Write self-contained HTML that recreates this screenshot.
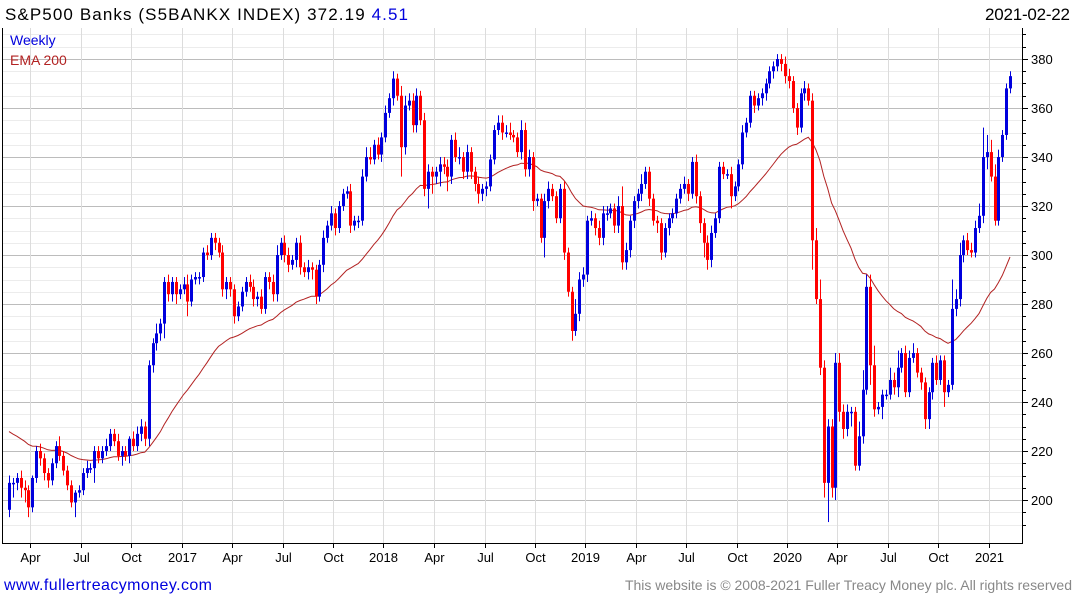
<!DOCTYPE html>
<html><head><meta charset="utf-8">
<style>
html,body{margin:0;padding:0;background:#fff;}
svg{display:block;font-family:"Liberation Sans",sans-serif;}
</style></head>
<body>
<svg id="chart" width="1075" height="600" viewBox="0 0 1075 600" xmlns="http://www.w3.org/2000/svg">
<g id="grid"></g>
<g id="ema"></g>
<g id="candles"></g>
<g id="axes"></g>
<text x="5" y="20" font-size="17" fill="#000" textLength="403" lengthAdjust="spacing">S&amp;P500 Banks  (S5BANKX INDEX) 372.19 <tspan fill="#0000dd">4.51</tspan></text>
<text x="985" y="20" font-size="17" fill="#000" textLength="85" lengthAdjust="spacing">2021-02-22</text>
<text x="10" y="45" font-size="14" fill="#0000dd">Weekly</text>
<text x="10" y="65" font-size="14" fill="#b22222">EMA 200</text>
<text x="4" y="590" font-size="16" fill="#0000dd" textLength="208" lengthAdjust="spacing">www.fullertreacymoney.com</text>
<text x="625" y="590" font-size="14" fill="#888" textLength="447" lengthAdjust="spacing">This website is © 2008-2021 Fuller Treacy Money plc. All rights reserved</text>
</svg>
<script>
const closes = [207,207,209,205,204,197,209,220,217,211,208,215,222,218,212,206,199,203,204,211,213,213,220,217,220,222,227,224,218,220,218,225,222,227,230,225,255,264,268,272,289,284,289,284,286,288,281,290,291,291,301,300,307,305,301,286,289,286,275,279,285,289,287,282,283,
278,291,289,284,300,305,300,296,298,305,295,293,295,294,283,296,307,312,317,311,320,325,326,312,314,314,332,340,339,345,341,348,358,364,372,365,344,361,363,353,365,355,327,334,332,334,337,336,332,347,340,340,334,342,334,329,325,327,328,339,351,354,350,350,349,348,
342,351,335,340,322,323,307,322,327,324,315,327,301,285,269,276,290,292,314,315,311,307,317,317,319,312,320,297,302,314,322,325,329,334,323,314,313,301,311,315,317,323,327,329,325,338,324,313,305,298,309,315,336,333,333,324,328,337,350,354,365,361,364,366,370,375,377,380,
378,373,371,360,352,366,368,363,306,282,254,207,230,205,256,236,229,236,236,214,226,245,287,255,237,238,243,243,249,246,254,260,244,258,260,252,248,233,244,256,249,257,244,247,278,282,300,306,302,301,311,316,340,342,332,314,340,349,368,373];
const wickUp = [3,2,2,3,3,2,1,2,3,2,2,2,2,4,2,2,2,1,2,2,3,2,2,2,2,3,2,2,3,2,2,1,3,3,3,2,2,2,4,2,2,3,2,2,2,3,4,2,2,2,2,3,2,2,2,3,2,2,2,2,2,2,3,3,2,
3,2,2,3,4,2,3,3,2,2,3,2,3,2,2,2,3,2,3,2,2,2,2,3,2,2,3,4,4,2,3,2,3,2,3,2,4,4,3,3,3,2,3,3,2,2,3,3,3,2,3,4,2,3,2,2,3,2,2,2,2,3,3,3,4,2,
2,4,3,3,2,2,2,3,3,2,2,2,3,2,2,6,3,3,2,3,2,3,3,3,2,2,4,8,3,2,2,2,4,2,2,2,2,2,2,2,2,2,2,3,2,2,3,2,2,3,3,2,2,2,2,3,2,2,3,2,2,2,2,2,2,2,2,2,
2,3,3,2,2,2,3,2,3,5,8,3,3,3,4,4,3,3,2,2,6,8,5,5,8,2,2,2,5,3,7,2,3,3,4,2,2,2,2,2,3,2,2,2,12,4,5,2,3,3,3,5,12,7,5,5,3,2,2,2];
const wickDn = [3,6,3,4,5,4,2,2,3,3,3,2,2,2,2,2,2,6,2,2,2,2,6,2,2,2,2,2,2,4,2,3,2,2,3,3,3,3,3,3,6,3,3,4,2,2,6,2,2,3,2,2,2,3,2,3,4,3,3,2,2,2,2,3,3,
2,2,3,3,3,2,3,3,2,3,3,2,3,4,3,2,3,2,2,3,2,2,2,3,2,3,2,2,2,2,2,3,2,2,3,2,12,3,2,3,3,2,3,8,7,3,6,3,6,3,2,3,3,3,3,3,4,3,3,2,2,2,3,2,2,2,
2,3,3,3,4,2,2,8,3,2,2,2,3,2,4,2,3,3,3,2,3,3,3,3,2,3,3,3,3,3,3,3,3,2,3,2,4,3,2,3,2,2,2,2,3,2,3,4,6,4,3,2,2,2,2,5,2,2,2,2,2,3,2,3,3,2,3,2,
3,3,3,2,3,2,3,2,12,2,3,6,16,4,5,4,4,3,6,2,2,3,2,8,3,2,5,2,2,3,4,2,2,2,2,2,3,4,4,3,2,2,6,2,2,3,3,3,2,2,2,2,3,5,2,2,2,2,2,2];
const firstOpen = 196;
const emaSeed = 229;
const yTicks = [200,220,240,260,280,300,320,340,360,380];
const xLabels = ["Apr","Jul","Oct","2017","Apr","Jul","Oct","2018","Apr","Jul","Oct","2019","Apr","Jul","Oct","2020","Apr","Jul","Oct","2021"];
const xLabelWeeks = [5.5,18.6,31.5,44.5,57.5,70.6,83.5,96.5,109.5,122.6,135.5,148.5,161.5,174.6,187.5,200.5,213.5,226.6,239.5,252.5];

const NS="http://www.w3.org/2000/svg";
const L=2, R=1022, T=28, B=543;
const y=v=>500-(v-200)*2.45;
const x=i=>9+i*3.88;
function mk(tag,attrs,parent){const e=document.createElementNS(NS,tag);for(const k in attrs)e.setAttribute(k,attrs[k]);parent.appendChild(e);return e;}
const grid=document.getElementById('grid'),axes=document.getElementById('axes'),cg=document.getElementById('candles'),eg=document.getElementById('ema');

for(let v=190;v<=390;v+=5){const yy=Math.round(y(v))+0.5;if(yy<T||yy>B)continue;
 const major=v%20===0;
 const ln=mk('line',{x1:L,x2:R,y1:yy,y2:yy,stroke:major?'#bcbcbc':'#ececec','stroke-width':1},grid);
 
 
 const tk=mk('line',{x1:R,x2:R+(major?6:4),y1:yy,y2:yy,stroke:'#000','stroke-width':1},axes);
 
 
}
xLabelWeeks.forEach((w,k)=>{const xx=Math.round(x(w))+0.5;
 const ln=mk('line',{x1:xx,x2:xx,y1:T,y2:B,stroke:'#dcdcdc','stroke-width':1},grid);
 
 
 const tk=mk('line',{x1:xx,x2:xx,y1:B,y2:B+5,stroke:'#000'},axes);
 
 
 const t=mk('text',{x:xx,y:562,'font-size':13,'text-anchor':'middle',fill:'#000'},axes);
 t.textContent=xLabels[k];
 
 
});
yTicks.forEach(v=>{const t=mk('text',{x:1031,y:y(v)+5,'font-size':13,fill:'#000'},axes);
 t.textContent=v;
 
 
});
const ax1=mk('line',{x1:L+0.5,x2:L+0.5,y1:T,y2:B,stroke:'#000'},axes);


const ax2=mk('line',{x1:R+0.5,x2:R+0.5,y1:T,y2:B,stroke:'#000'},axes);


const ax3=mk('line',{x1:L,x2:R+1,y1:B+0.5,y2:B+0.5,stroke:'#000'},axes);



let prev=firstOpen;
closes.forEach((c,i)=>{const o=prev;prev=c;
 const hi=Math.max(o,c)+wickUp[i], lo=Math.min(o,c)-wickDn[i];
 const col=c>=o?'#0000dd':'#ff0000';const cx=Math.round(x(i));
 const g=mk('g',{},cg);
 
 
 mk('rect',{x:cx,y:y(hi),width:1,height:Math.max(1,y(lo)-y(hi)),fill:col},g);
 const top=y(Math.max(o,c)),bot=y(Math.min(o,c));
 mk('rect',{x:cx-1,y:top,width:3,height:Math.max(1.5,bot-top),fill:col},g);
});
let e=emaSeed;const a=2/41;const pts=[];
closes.forEach((c,i)=>{e=e+a*(c-e);pts.push(x(i).toFixed(1)+','+y(e).toFixed(1));});
const pl=mk('polyline',{points:pts.join(' '),fill:'none',stroke:'#b22222','stroke-width':1},eg);


</script>
</body></html>
